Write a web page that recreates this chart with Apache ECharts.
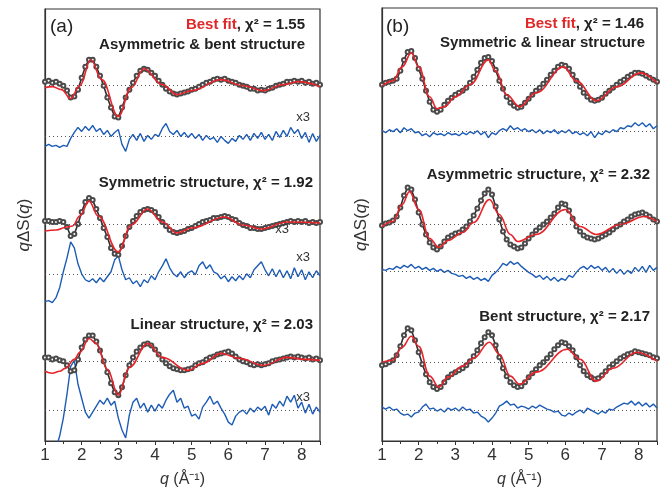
<!DOCTYPE html>
<html>
<head>
<meta charset="utf-8">
<script src="https://cdn.jsdelivr.net/npm/echarts@6/dist/echarts.min.js"></script>
<style>
  html, body { margin: 0; padding: 0; background: #fff; }
  #chart { width: 660px; height: 493px; }
</style>
</head>
<body>
<div id="chart"></div>
<script>
// q grid (Å^-1), step 0.1
const qGrid = [
  1.0, 1.1, 1.2, 1.3, 1.4, 1.5, 1.6, 1.7, 1.8, 1.9,
  2.0, 2.1, 2.2, 2.3, 2.4, 2.5, 2.6, 2.7, 2.8, 2.9,
  3.0, 3.1, 3.2, 3.3, 3.4, 3.5, 3.6, 3.7, 3.8, 3.9,
  4.0, 4.1, 4.2, 4.3, 4.4, 4.5, 4.6, 4.7, 4.8, 4.9,
  5.0, 5.1, 5.2, 5.3, 5.4, 5.5, 5.6, 5.7, 5.8, 5.9,
  6.0, 6.1, 6.2, 6.3, 6.4, 6.5, 6.6, 6.7, 6.8, 6.9,
  7.0, 7.1, 7.2, 7.3, 7.4, 7.5, 7.6, 7.7, 7.8, 7.9,
  8.0, 8.1, 8.2, 8.3, 8.4, 8.5
];

// vertical offsets of the stacked curves
const fitOffsetsA = [357, 218, 80];
const resOffsetsA = [306, 168, 31];
const fitOffsetsB = [357, 217, 79];
const resOffsetsB = [310, 170, 31];

// ---- panel (a) ----
const expA1 = [
  4, 5, 3, 4, 2, 0, -5, -12, -11, -4,
  8, 19, 26, 26, 19, 10, 0, -12, -22, -31,
  -32, -22, -12, -4, 3, 10, 15, 17, 16, 13,
  10, 5, 1, -3, -6, -8, -9, -8, -7, -6,
  -4, -3, -1, 1, 3, 4, 6, 7, 6, 7,
  5, 4, 3, 1, 0, -1, -3, -3, -5, -4,
  -5, -3, -2, 0, 1, 2, 4, 4, 5, 4,
  5, 3, 4, 2, 3, 1
];
const resA1 = [
  -10, -8, -10, -9, -11, -9, -10, -2, 4, 9,
  5, 10, 6, 11, 5, 8, 2, 6, 0, 4,
  7, -8, -15, -3, 2, -4, 3, -5, 1, -3,
  2, 0, 8, 13, 5, 2, 6, 0, 4, -1,
  3, -2, 2, -4, 1, -3, -1, -6, 0, -4,
  -7, -2, -5, 1, -3, 2, -4, 3, -2, 4,
  -3, 2, -4, 5, -1, 6, 0, 9, 3, 7,
  -2, 4, -6, 3, -5, 1
];
const fitA1 = [[1.0,-2],[1.2,-1],[1.45,-4],[1.7,-13],[1.95,0],[2.25,26],[2.55,6],[3.0,-31],[3.35,-2],[3.7,17],[4.2,1],[4.6,-9],[5.0,-5],[5.8,6],[6.4,0],[6.95,-5],[7.5,1],[7.9,4],[8.5,-1]];

const expA2 = [
  3, 3, 2, 2, 3, 2, -3, -12, -10, 0,
  12, 22, 26, 24, 15, 6, -4, -13, -24, -30,
  -31, -22, -12, -3, 3, 8, 12, 14, 15, 14,
  12, 7, 2, -2, -6, -8, -9, -8, -7, -5,
  -4, -2, 0, 2, 3, 4, 6, 6, 7, 8,
  7, 5, 4, 1, -1, -2, -4, -4, -5, -5,
  -4, -3, -2, -1, 0, 1, 2, 3, 2, 3,
  2, 3, 1, 2, 1, 2
];
const resA2 = [
  -28, -27, -29, -24, -14, 2, 16, 32, 26, 10,
  0, -6, -8, -5, -9, -4, -8, -3, 2, 14,
  18, 4, -6, -4, -10, -7, -13, -6, -9, -2,
  -6, 2, 8, 15, 6, 0, -3, 2, -4, 1,
  3, -1, 8, 12, 5, 9, 2, 0, -5, -2,
  -8, -3, -7, -2, -6, 0, -4, 4, 8, 12,
  4, -2, 5, -3, 4, -4, 3, -5, 6, -3,
  4, -6, 2, -4, 3, -2
];
const fitA2 = [[1.0,-7],[1.3,-6],[1.6,-3],[1.75,-2],[1.95,8],[2.2,23],[2.45,8],[3.0,-28],[3.35,-1],[3.8,15],[4.2,2],[4.6,-9],[5.0,-4],[5.9,7],[6.4,-1],[6.9,-5],[7.6,2],[8.5,1]];

const expA3 = [
  4, 4, 2, 3, 1, 0, -4, -10, -9, 2,
  14, 22, 26, 26, 20, 11, 0, -11, -22, -31,
  -34, -26, -14, -4, 4, 10, 14, 17, 18, 16,
  12, 7, 2, -2, -5, -7, -8, -9, -9, -8,
  -7, -4, -2, -1, 2, 4, 5, 7, 8, 9,
  10, 8, 5, 2, 0, -1, -3, -4, -3, -4,
  -3, -2, 0, 1, 2, 3, 4, 5, 4, 5,
  4, 3, 4, 2, 3, 1
];
const resA3 = [
  -45, -45, -42, -38, -26, -8, 16, 44, 50, 26,
  12, -2, -8, -2, 4, 10, 6, 12, 5, 9,
  -8, -20, -28, -5, 8, 12, 2, 7, -2, 5,
  -1, 6, 2, 10, 16, 20, 8, 12, 2, 4,
  -6, -4, -9, 3, 8, 14, 6, 9, 2, -4,
  -12, -15, -6, -2, 0, -4, 2, -2, 3, 0,
  4, -5, 6, 2, 9, 4, 14, 8, 15, 2,
  8, -3, 6, -4, 3, -2
];
const fitA3 = [[1.0,-10],[1.2,-12],[1.4,-10],[1.55,-7],[1.8,2],[1.95,9],[2.2,23],[2.4,18],[2.7,-8],[3.0,-34],[3.3,-6],[3.8,18],[4.2,4],[4.9,-9],[5.3,-2],[5.8,8],[6.3,3],[6.95,-4],[7.6,4],[8.1,2],[8.5,1]];

// ---- panel (b) ----
const expB1 = [
  0, 2, 3, 4, 6, 14, 25, 33, 34, 27,
  16, 6, -6, -17, -25, -27, -25, -20, -16, -13,
  -10, -8, -6, -3, 2, 8, 15, 22, 27, 28,
  24, 15, 4, -4, -12, -18, -21, -23, -22, -18,
  -14, -10, -6, -3, 1, 5, 10, 14, 18, 20,
  19, 16, 10, 4, -2, -8, -12, -15, -16, -15,
  -13, -9, -6, -3, 0, 3, 5, 8, 10, 12,
  12, 11, 9, 7, 5, 3
];
const resB1 = [
  1, -1, 2, 0, 3, -1, 4, 1, 3, -1,
  0, -4, -2, -5, -1, -3, -2, -4, -1, -3,
  -2, -4, -1, -3, 0, -2, 1, -3, 0, -6,
  -1, -3, 1, 3, 1, 6, 2, 4, 1, 3,
  0, 2, -1, 2, -2, 1, -1, 2, -2, 1,
  -1, 2, -2, 0, -3, -1, -4, 0, -6, -1,
  -3, 1, -1, 2, 0, 4, 3, 6, 5, 9,
  6, 9, 5, 8, 3, 6
];
const fitB1 = [[1.0,-1],[1.3,4],[1.55,18],[1.8,32],[2.0,18],[2.3,-12],[2.5,-24],[2.7,-22],[3.0,-12],[3.4,0],[3.9,25],[4.1,14],[4.4,-10],[4.75,-22],[5.2,-8],[5.95,18],[6.3,4],[6.85,-16],[7.4,-2],[8.05,12],[8.5,2]];

const expB2 = [
  -1, 1, 2, 4, 8, 17, 29, 37, 35, 25,
  12, 0, -10, -18, -23, -25, -22, -17, -13, -11,
  -9, -8, -5, -2, 3, 9, 16, 24, 31, 35,
  30, 18, 5, -7, -15, -20, -22, -24, -23, -19,
  -14, -10, -6, -3, 0, 3, 7, 11, 17, 21,
  20, 14, 6, -2, -7, -11, -13, -14, -15, -14,
  -12, -10, -8, -5, -2, 0, 3, 5, 8, 10,
  11, 12, 10, 8, 5, 3
];
const resB2 = [
  2, 1, 3, 2, 5, 3, 6, 4, 7, 3,
  5, 2, 4, 1, 3, 0, 2, -1, 1, -2,
  -3, -5, -4, -7, -5, -8, -6, -9, -7, -10,
  -4, -1, 3, 8, 6, 10, 7, 9, 5, 2,
  -1, -3, -6, -4, -8, -5, -9, -6, -10, -7,
  -9, -4, -6, -1, 3, 5, 2, 6, 3, 5,
  1, 4, -1, 3, -2, 2, -3, 1, -2, 4,
  0, 5, -1, 6, 1, 4
];
const fitB2 = [[1.0,-2],[1.3,3],[1.55,20],[1.75,33],[2.0,15],[2.3,-14],[2.55,-23],[2.8,-16],[3.2,-8],[3.5,2],[3.93,25],[4.2,10],[4.5,-10],[4.7,-17],[5.2,-10],[6.0,15],[6.4,-2],[6.84,-10],[7.5,0],[8.15,8],[8.5,3]];

const expB3 = [
  -3, -2, 0, 2, 7, 16, 27, 34, 32, 22,
  10, -2, -12, -20, -25, -27, -25, -20, -15, -12,
  -10, -8, -6, -3, 1, 6, 12, 19, 25, 30,
  27, 17, 5, -6, -14, -20, -23, -25, -24, -20,
  -15, -11, -7, -3, 0, 4, 8, 13, 17, 20,
  19, 16, 12, 5, -3, -9, -13, -15, -17, -16,
  -13, -9, -5, -2, 1, 4, 6, 8, 9, 11,
  10, 9, 8, 7, 5, 4
];
const resB3 = [
  3, 1, 3, 0, 1, -3, -5, -4, -7, -3,
  -2, 3, 6, 1, 2, -1, 1, -2, 2, 0,
  2, -1, 3, 0, 1, -3, -2, -6, -8, -12,
  -8, -3, 4, 6, 9, 5, 6, 2, 4, 3,
  1, 4, 2, 5, 3, 1, 0, -2, -1, -5,
  -6, -3, -5, -2, 0, -3, 2, 0, -2, -4,
  -1, -3, 1, 0, 3, 5, 7, 6, 9, 5,
  8, 4, 7, 3, 6, 2
];
const fitB3 = [[1.0,0],[1.3,2],[1.55,15],[1.8,26],[2.0,16],[2.3,-14],[2.55,-25],[2.8,-15],[3.2,-4],[3.5,4],[3.93,20],[4.2,8],[4.5,-14],[4.75,-22],[5.2,-10],[6.05,13],[6.4,3],[6.84,-19],[7.3,-6],[7.95,10],[8.5,1]];

const xTicks = [1, 2, 3, 4, 5, 6, 7, 8];

const panels = [
  { exp: [expA1, expA2, expA3], res: [resA1, resA2, resA3], fit: [fitA1, fitA2, fitA3], fitOff: fitOffsetsA, resOff: resOffsetsA },
  { exp: [expB1, expB2, expB3], res: [resB1, resB2, resB3], fit: [fitB1, fitB2, fitB3], fitOff: fitOffsetsB, resOff: resOffsetsB }
];

const FONT = '"Liberation Sans", Arial, sans-serif';
const series = [];

panels.forEach((p, pi) => {
  for (let k = 0; k < 3; k++) {
    const fo = p.fitOff[k], ro = p.resOff[k];
    // residual (x3)
    series.push({
      type: 'line', xAxisIndex: pi, yAxisIndex: pi,
      data: qGrid.map((q, i) => [q, p.res[k][i] + ro]),
      showSymbol: false, silent: true,
      lineStyle: { color: '#1d5cb6', width: 1.4 },
      markLine: {
        silent: true, symbol: 'none', label: { show: false },
        lineStyle: { color: '#555', type: [1, 3], width: 1 },
        data: [{ yAxis: ro }]
      },
      z: 2
    });
    // experimental points
    series.push({
      type: 'line', xAxisIndex: pi, yAxisIndex: pi,
      data: qGrid.map((q, i) => [q, p.exp[k][i] + fo]),
      symbol: 'emptyCircle', symbolSize: 4, showSymbol: true, showAllSymbol: true,
      itemStyle: { color: '#4a4a4a', borderWidth: 0.9 },
      lineStyle: { color: '#2e2e2e', width: 1.6 },
      markLine: {
        silent: true, symbol: 'none', label: { show: false },
        lineStyle: { color: '#555', type: [1, 3], width: 1 },
        data: [{ yAxis: fo }]
      },
      silent: true, z: 3
    });
    // fit
    series.push({
      type: 'line', xAxisIndex: pi, yAxisIndex: pi,
      data: p.fit[k].map(d => [d[0], d[1] + fo]),
      showSymbol: false, smooth: 0.4, smoothMonotone: 'x', silent: true,
      lineStyle: { color: '#e8242a', width: 1.6 },
      z: 4
    });
  }
});

const xAxisCommon = {
  type: 'value', min: 1, max: 8.5, interval: 1,
  name: '{i|q} (Å⁻¹)', nameLocation: 'middle', nameGap: 31,
  nameTextStyle: { fontSize: 16, color: '#333', fontFamily: FONT, rich: { i: { fontStyle: 'italic', fontSize: 16, color: '#333', fontFamily: FONT } } },
  axisLine: { lineStyle: { color: '#333', width: 1.2 } },
  axisTick: { show: true, length: 4, lineStyle: { color: '#333' } },
  minorTick: { show: true, splitNumber: 2, length: 3, lineStyle: { color: '#333' } },
  axisLabel: {
    fontSize: 17, color: '#333', fontFamily: FONT, margin: 6,
    formatter: v => xTicks.indexOf(v) >= 0 ? String(v) : ''
  },
  splitLine: { show: false }
};
const yAxisCommon = {
  type: 'value', min: 0, max: 434,
  name: '{i|q}ΔS({i|q})', nameLocation: 'middle', nameGap: 12,
  nameTextStyle: { fontSize: 17, color: '#333', fontFamily: FONT, rich: { i: { fontStyle: 'italic', fontSize: 17, color: '#333', fontFamily: FONT } } },
  axisLine: { show: true, lineStyle: { color: '#333', width: 1.2 } },
  axisTick: { show: false }, axisLabel: { show: false }, splitLine: { show: false }
};

function label(x, y, text, opts) {
  return {
    type: 'text', x: x, y: y, silent: true, z: 100,
    style: Object.assign({
      text: text, fontSize: 15, fontWeight: 'bold', fontFamily: FONT, fill: '#222',
      align: 'right', verticalAlign: 'middle',
      rich: { r: { fill: '#e02828', fontSize: 15, fontWeight: 'bold', fontFamily: FONT } }
    }, opts || {})
  };
}

const chart = echarts.init(document.getElementById('chart'), null, { renderer: 'canvas' });
chart.setOption({
  animation: false,
  backgroundColor: '#fff',
  grid: [
    { left: 45, right: 340, top: 9, bottom: 50, show: true, borderColor: '#333', borderWidth: 1.2 },
    { left: 382, right: 2, top: 8, bottom: 51, show: true, borderColor: '#333', borderWidth: 1.2 }
  ],
  xAxis: [Object.assign({ gridIndex: 0 }, xAxisCommon), Object.assign({ gridIndex: 1 }, xAxisCommon)],
  yAxis: [Object.assign({ gridIndex: 0 }, yAxisCommon), Object.assign({ gridIndex: 1 }, yAxisCommon)],
  series: series,
  graphic: [
    label(50, 27, '(a)', { align: 'left', fontWeight: 'normal', fontSize: 19, fill: '#222' }),
    label(305, 25, '{r|Best fit}, χ² = 1.55'),
    label(305, 45, 'Asymmetric & bent structure'),
    label(313, 183, 'Symmetric structure, χ² = 1.92'),
    label(313, 325, 'Linear structure, χ² = 2.03'),
    label(310, 117, 'x3', { fontWeight: 'normal', fontSize: 13, fill: '#333' }),
    label(289, 229, 'x3', { fontWeight: 'normal', fontSize: 13, fill: '#333' }),
    label(310, 257, 'x3', { fontWeight: 'normal', fontSize: 13, fill: '#333' }),
    label(310, 397, 'x3', { fontWeight: 'normal', fontSize: 13, fill: '#333' }),
    label(386, 27, '(b)', { align: 'left', fontWeight: 'normal', fontSize: 19, fill: '#222' }),
    label(644, 24, '{r|Best fit}, χ² = 1.46'),
    label(645, 43, 'Symmetric & linear structure'),
    label(650, 175, 'Asymmetric structure, χ² = 2.32'),
    label(650, 317, 'Bent structure, χ² = 2.17')
  ]
});
</script>
</body>
</html>
